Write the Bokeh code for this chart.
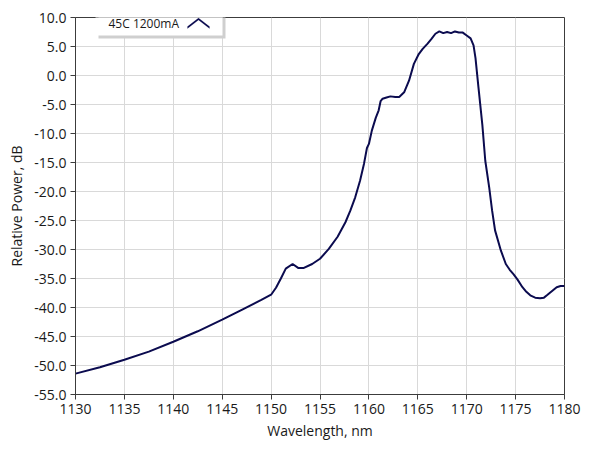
from bokeh.plotting import figure
from bokeh.models import (SingleIntervalTicker, PrintfTickFormatter, BoxAnnotation,
                          Label, PolyAnnotation)
from bokeh.embed import file_html
from bokeh.resources import INLINE

# ---- data ----
wavelength_nm = [1130, 1132.5, 1135, 1137.5, 1140, 1142.5, 1145, 1147, 1149, 1150,
                 1150.5, 1151, 1151.5, 1152.2, 1152.8, 1153.3, 1154.2, 1155, 1155.9,
                 1156.8, 1157.6, 1158.1, 1158.6, 1159.1, 1159.5, 1159.8, 1160.0,
                 1160.3, 1160.7, 1161.0, 1161.2, 1161.4, 1161.8, 1162.2, 1162.7,
                 1163.1, 1163.6, 1164.1, 1164.6, 1165.1, 1165.5, 1166.0, 1166.4,
                 1166.8, 1167.2, 1167.6, 1168.0, 1168.4, 1168.8, 1169.2, 1169.6,
                 1170.0, 1170.4, 1170.7, 1170.9, 1171.2, 1171.6, 1171.9, 1172.3,
                 1172.6, 1172.9, 1173.5, 1174.0, 1174.4, 1174.8, 1175.2, 1175.7,
                 1176.1, 1176.5, 1177.0, 1177.5, 1177.9, 1178.2, 1178.7, 1179.2,
                 1179.6, 1180.0]
power_db = [-51.4, -50.3, -49.0, -47.6, -45.9, -44.1, -42.1, -40.4, -38.7, -37.8,
            -36.6, -35.0, -33.3, -32.5, -33.2, -33.2, -32.5, -31.6, -29.9,
            -27.8, -25.3, -23.3, -21.0, -18.1, -15.2, -12.5, -11.8,
            -9.5, -7.3, -6.0, -4.4, -4.0, -3.8, -3.6, -3.7,
            -3.7, -2.9, -0.9, 2.0, 3.7, 4.6, 5.5, 6.3,
            7.2, 7.6, 7.3, 7.5, 7.3, 7.6, 7.4, 7.4,
            6.9, 6.4, 5.2, 3.0, -2.0, -8.5, -14.7, -19.3,
            -23.3, -26.7, -30.2, -32.5, -33.5, -34.3, -35.2, -36.5,
            -37.3, -37.9, -38.3, -38.4, -38.3, -37.9, -37.2, -36.5,
            -36.3, -36.3]
series_name = "45C 1200mA"
x_label = "Wavelength, nm"
y_label = "Relative Power, dB"

FONT = "Open Sans"
LINE_COLOR = "#0b0b4f"
FRAME = "#3c3c3c"

p = figure(width=581, height=448, x_range=(1130, 1180), y_range=(-55, 10),
           output_backend="svg", toolbar_location=None,
           min_border_left=75, min_border_right=17, min_border_top=17,
           min_border_bottom=54)
p.background_fill_color = "white"
p.border_fill_color = "white"
p.outline_line_color = FRAME
p.outline_line_width = 1

p.line(wavelength_nm, power_db, line_color=LINE_COLOR, line_width=2)

p.xaxis.ticker = SingleIntervalTicker(interval=5)
p.yaxis.ticker = SingleIntervalTicker(interval=5)
p.yaxis.formatter = PrintfTickFormatter(format="%.1f")
for ax in (p.xaxis[0], p.yaxis[0]):
    ax.axis_line_color = FRAME
    ax.major_tick_line_color = FRAME
    ax.major_tick_out = 5
    ax.major_tick_in = 0
    ax.minor_tick_line_color = None
    ax.major_label_text_font = FONT
    ax.major_label_text_font_size = "14px"
    ax.major_label_text_color = "#1a1a1a"
    ax.axis_label_text_font = FONT
    ax.axis_label_text_font_size = "14px"
    ax.axis_label_text_font_style = "normal"
    ax.axis_label_text_color = "#1a1a1a"
p.xaxis.axis_label = x_label
p.yaxis.axis_label = y_label
p.xaxis.major_label_standoff = 4
p.yaxis.major_label_standoff = 4
p.xaxis.axis_label_standoff = 4
p.yaxis.axis_label_standoff = 5

p.xgrid.grid_line_color = "#d9d9d9"
p.ygrid.grid_line_color = "#d9d9d9"
p.xgrid.grid_line_width = 1
p.ygrid.grid_line_width = 1

# ---- legend box (LabVIEW-style) ----
shadow = BoxAnnotation(left=23, right=150, top=378, bottom=356,
                       left_units="screen", right_units="screen",
                       top_units="screen", bottom_units="screen",
                       fill_color="#cfcfcf", fill_alpha=1, line_color=None)
box = BoxAnnotation(left=20, right=147, top=381, bottom=359,
                    left_units="screen", right_units="screen",
                    top_units="screen", bottom_units="screen",
                    fill_color="white", fill_alpha=1, line_color=None)
p.add_layout(shadow)
p.add_layout(box)
p.add_layout(Label(x=33, y=371, x_units="screen", y_units="screen", text=series_name,
                   text_font=FONT, text_font_size="12px", text_color="#1a1a1a",
                   text_baseline="middle"))
p.add_layout(PolyAnnotation(xs=[112, 123, 134, 134, 123, 112],
                            ys=[368, 376.5, 368, 366, 374.5, 366],
                            xs_units="screen", ys_units="screen",
                            fill_color=LINE_COLOR, fill_alpha=1,
                            line_color=LINE_COLOR, line_width=0.5))

open("out.html", "w").write(file_html(p, INLINE))
